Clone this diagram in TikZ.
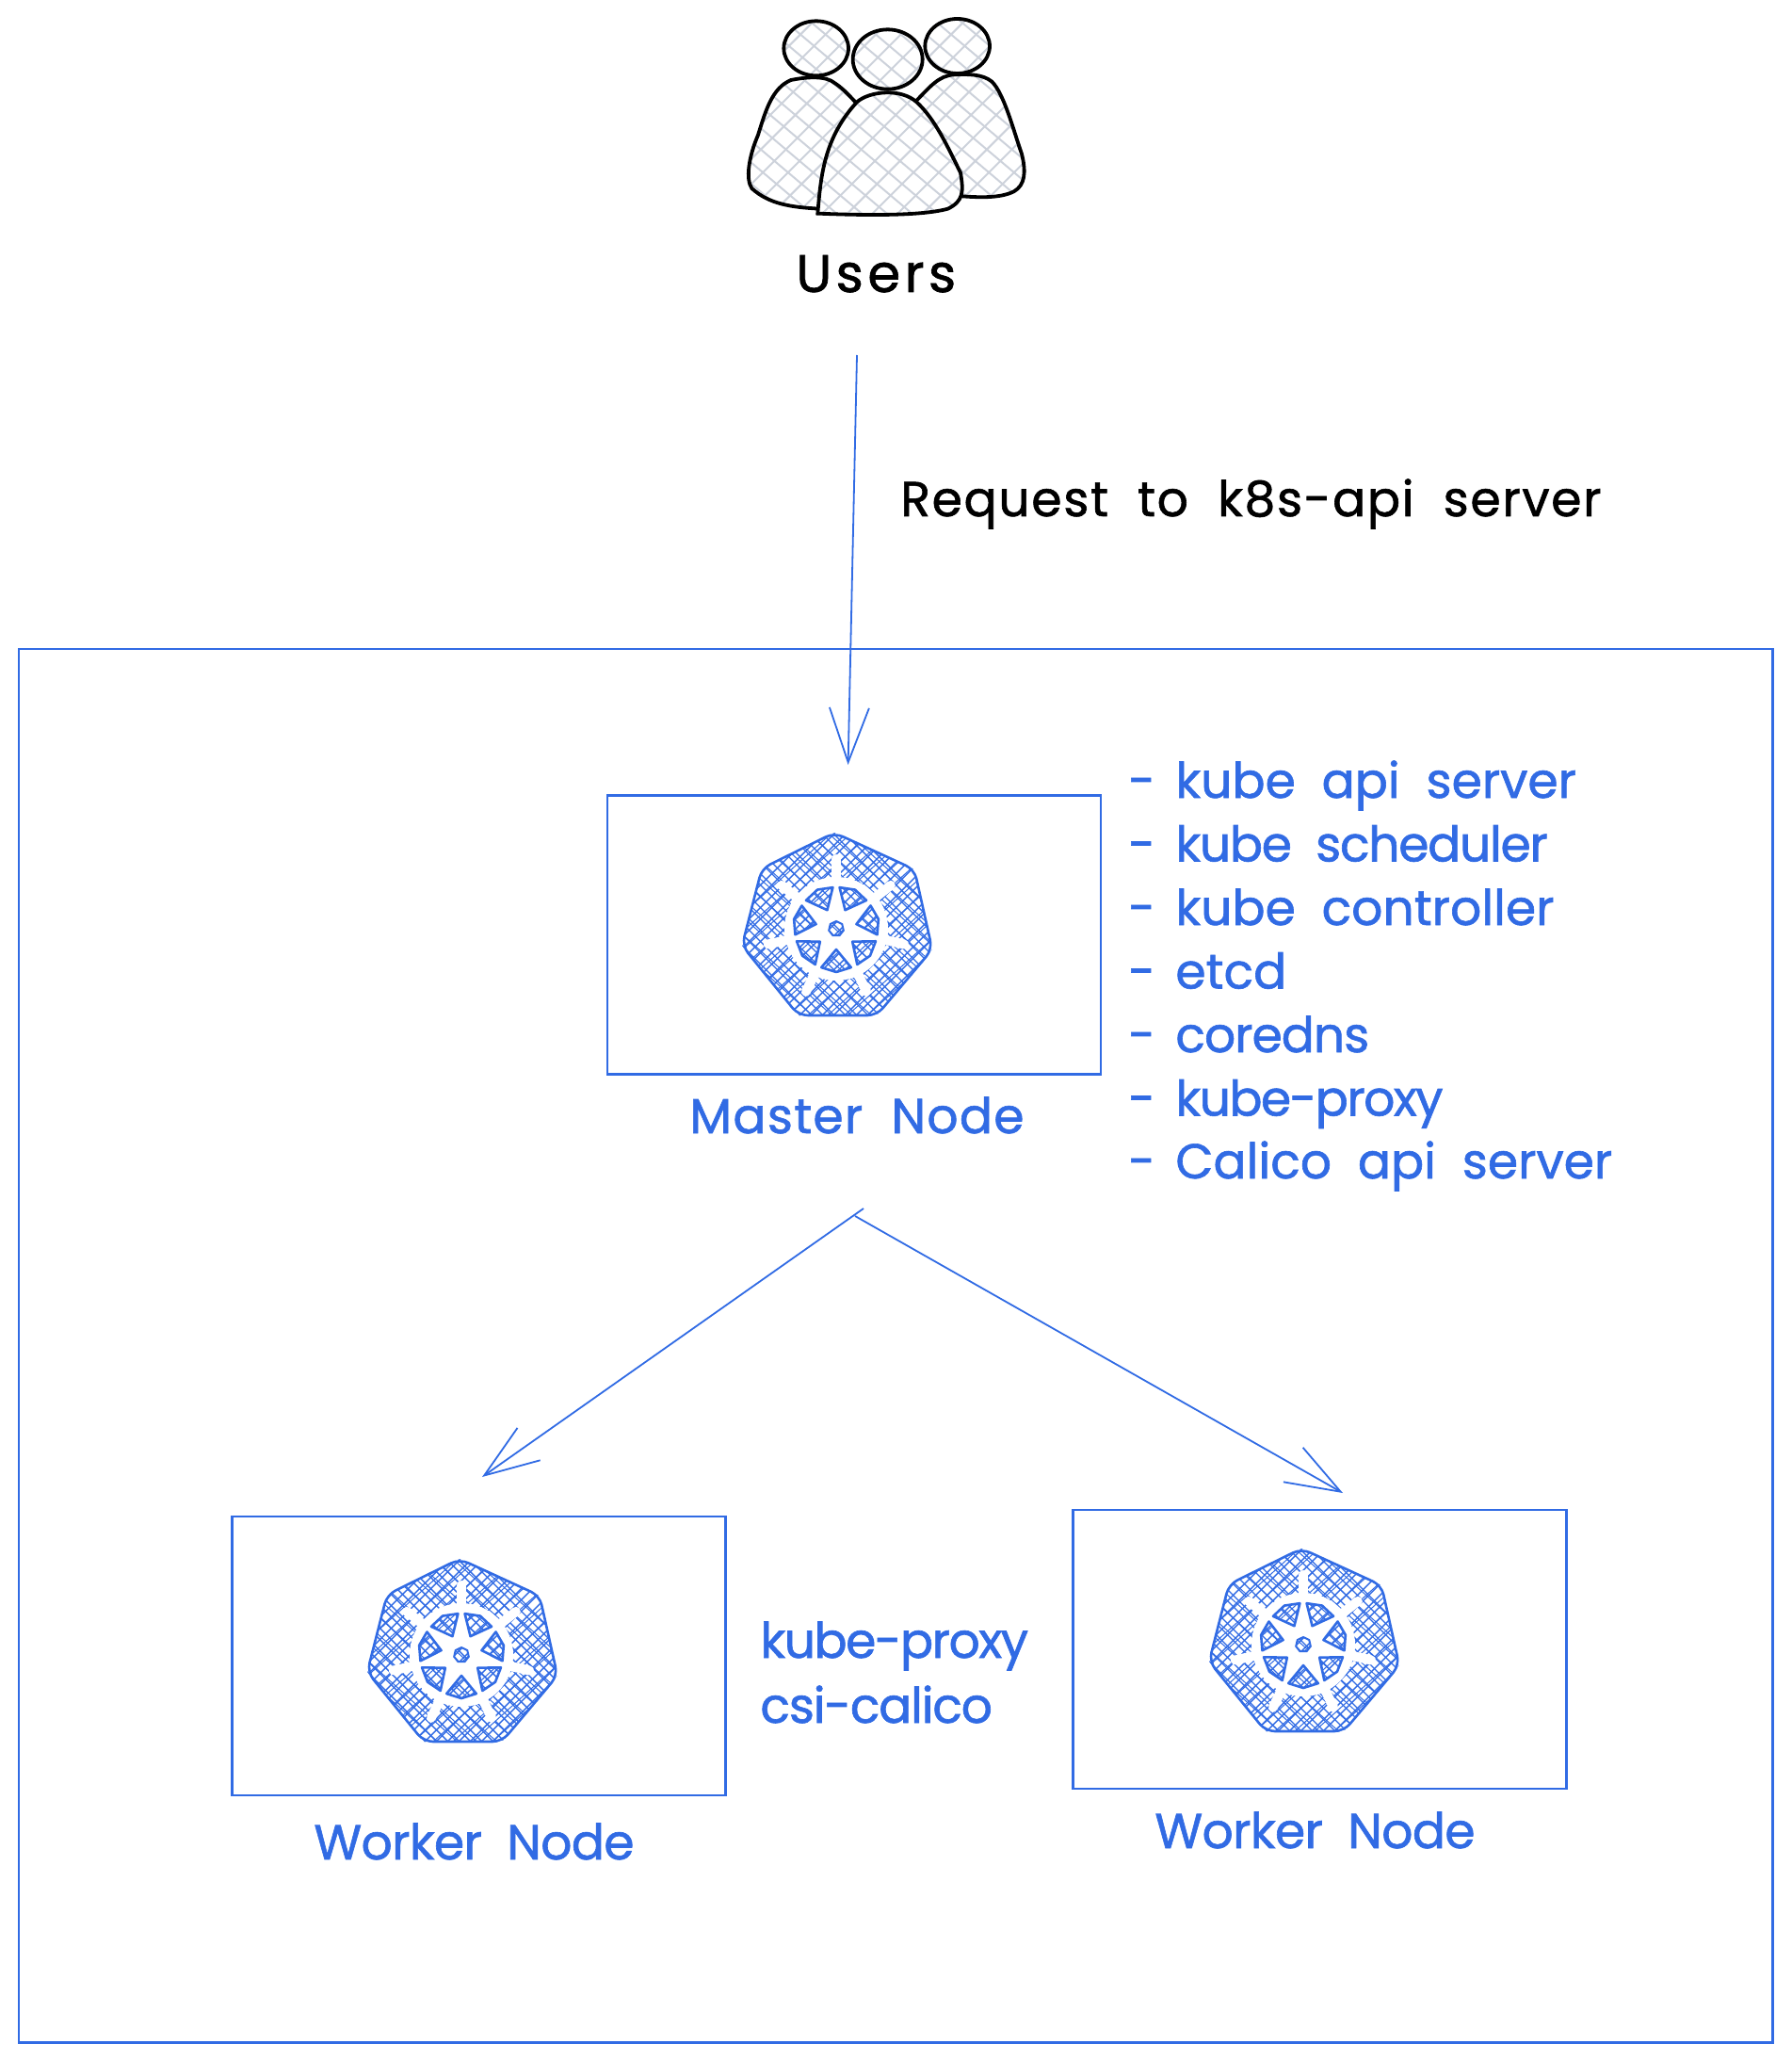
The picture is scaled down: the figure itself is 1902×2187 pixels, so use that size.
\documentclass[tikz,border=0pt]{standalone}
\usepackage{fontspec}
\setmainfont{Poppins}[WordSpace=2,FakeBold=1.2]
\usetikzlibrary{arrows.meta}
\definecolor{sketchblue}{HTML}{316BE4}
\definecolor{hatchgrey}{HTML}{CDD2DB}
\newcommand\userpart[1]{\fill[white] #1; \begin{scope} \clip #1;
\foreach \h in {-900,-820,...,1500} {\draw[userhatch] (\h,0) -- ++(900,760); \draw[userhatch] (\h,800) -- ++(900,-900);}
\end{scope} \draw[userline] #1;}
\newcommand\hatchlines{\foreach \h in {-130,-118,...,130} {\draw[kubehatch] (\h-130,-130) -- ++(260,260); \draw[kubehatch] (\h+3-130,130) -- ++(260,-260);}
\foreach \h in {-130,-109,...,130} {\draw[kubehatch,line width=0.5pt] (\h-130,-120) -- ++(260,235); \draw[kubehatch,line width=0.5pt] (\h-120,120) -- ++(260,-235);}}
\newcommand\kubeicon[3]{\begin{scope}[shift={(#2,#3)}]
\def\hepta{(-2,-102) -- (83,-63) -- (102,22) -- (43,92) -- (-40,92) -- (-100,18) -- (-79,-64) -- cycle}
\def\hubshape{(270:8) -- (321.4:8) -- (12.9:8) -- (64.3:8) -- (115.7:8) -- (167.1:8) -- (218.6:8) -- cycle}
\begin{scope} \clip \hepta; \hatchlines \end{scope}
\draw[kubeline,rounded corners=5pt] \hepta;
\fill[white] (0,0) circle (55);
\foreach \k in {0,...,6} {\draw[white,line width=5pt,line cap=round] (0,0) -- (270+\k*51.43:74);}
\foreach \k in {0,...,6} {\pgfmathsetmacro\a{295.7+\k*51.43}
\def\wedge{(\a:22) -- (\a-21:44) -- (\a:46) -- (\a+21:44) -- cycle}
\begin{scope} \clip \wedge; \hatchlines \end{scope}
\draw[kubeline,line join=round] \wedge;}
\begin{scope} \clip \hubshape; \hatchlines \end{scope}
\draw[kubeline,line width=1pt] \hubshape;
\coordinate (#1) at (0,0);
\end{scope}}
\newcommand\service[3]{\node[bluelabel] (#1) at (1198,#2) {\makebox[25pt][l]{-}#3};}
\newcommand\connect[2]{\draw[flow] (#1) -- (#2);}
\newcommand\spaced[2]{{\addfontfeature{LetterSpace=#1}#2}}

\begin{document}
\begin{tikzpicture}[x=0.5pt,y=-0.5pt]
\tikzstyle{nodebox}=[draw=sketchblue,line width=1.1pt,minimum width=262pt,minimum height=148pt,inner sep=0pt]
\tikzstyle{flow}=[draw=sketchblue,line width=0.9pt,-{Straight Barb[length=29pt,width=21pt]}]
\tikzstyle{bluelabel}=[text=sketchblue,anchor=base west,inner sep=0pt,font=\fontsize{26}{30}\selectfont]
\tikzstyle{blacklabel}=[text=black,anchor=base west,inner sep=0pt,font=\fontsize{26}{30}\selectfont]
\tikzstyle{kubeline}=[draw=sketchblue,line width=1.3pt]
\tikzstyle{kubehatch}=[draw=sketchblue,line width=0.7pt]
\tikzstyle{userline}=[draw=black,line width=1.9pt]
\tikzstyle{userhatch}=[draw=hatchgrey,line width=1pt]
\useasboundingbox (0,0) rectangle (1902,2187);
\node[draw=sketchblue,line width=1.1pt,minimum width=931.2pt,minimum height=739.7pt,inner sep=0pt] (cluster) at (951.2,1428.7) {};
% users
\begin{scope}[shift={(760,0)},x=1/6*1pt,y=-1/6*1pt]
\userpart{(770,147) ellipse [x radius=103,y radius=87]}
\userpart{(640,320) .. controls (680,280) and (710,240) .. (760,238) .. controls (800,236) and (850,235) .. (880,260) .. controls (920,300) and (950,420) .. (975,490) .. controls (990,550) and (985,590) .. (950,610) .. controls (910,630) and (850,630) .. (785,625) -- (600,500) -- cycle}
\userpart{(320,154) ellipse [x radius=103,y radius=87]}
\userpart{(330,665) .. controls (240,660) and (170,650) .. (115,600) .. controls (95,570) and (105,500) .. (135,430) .. controls (160,350) and (180,280) .. (240,255) .. controls (290,245) and (350,240) .. (380,265) .. controls (410,285) and (430,310) .. (450,330) -- (500,500) -- cycle}
\userpart{(325,680) .. controls (335,560) and (345,440) .. (450,325) .. controls (490,290) and (590,280) .. (640,325) .. controls (700,380) and (740,470) .. (780,550) .. controls (790,610) and (790,640) .. (740,665) .. controls (650,690) and (450,685) .. (325,680) -- cycle}
\userpart{(548,189) ellipse [x radius=111,y radius=95]}
\end{scope}
\node[blacklabel,font=\fontsize{28}{32}\selectfont] (users) at (845,310) {\spaced{8}{Users}};
\node[blacklabel] (request) at (956,548) {\spaced{3.2}{Request to k8s-api server}};
% nodes
\node[nodebox] (master) at (907,992.5) {};
\node[nodebox] (worker1) at (508.5,1758) {};
\node[nodebox] (worker2) at (1401.5,1751) {};
\kubeicon{masterwheel}{888}{986}
\kubeicon{worker1wheel}{490}{1757}
\kubeicon{worker2wheel}{1384}{1746}
\node[bluelabel] (masterlabel) at (732,1203) {\spaced{2.4}{Master Node}};
\node[bluelabel] (worker1label) at (333,1974) {\spaced{-1.3}{Worker Node}};
\node[bluelabel] (worker2label) at (1226,1962) {\spaced{-1.3}{Worker Node}};
\service{apiserver}{847}{kube api server}
\service{scheduler}{914.5}{\spaced{-2.5}{kube scheduler}}
\service{controller}{982}{kube controller}
\service{etcd}{1049.5}{etcd}
\service{coredns}{1117}{\spaced{-2}{coredns}}
\service{proxy}{1184.5}{\spaced{-3}{kube-proxy}}
\service{calico}{1251}{Calico api server}
\node[bluelabel] (workerproxy) at (807,1760) {\spaced{-2.9}{kube-proxy}};
\node[bluelabel] (csicalico) at (807,1829) {\spaced{-2.3}{csi-calico}};
% arrows
\coordinate (reqstart) at (910,377);
\coordinate (reqend) at (900.6,812);
\coordinate (leftstart) at (917,1283);
\coordinate (leftend) at (512,1568);
\coordinate (rightstart) at (908,1291);
\coordinate (rightend) at (1426,1585);
\connect{reqstart}{reqend};
\connect{leftstart}{leftend};
\connect{rightstart}{rightend};
\end{tikzpicture}
\end{document}
